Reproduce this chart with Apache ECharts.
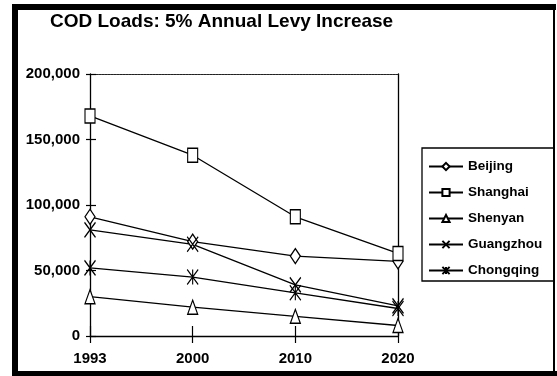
<!DOCTYPE html>
<html>
<head>
<meta charset="utf-8">
<script src="https://cdn.jsdelivr.net/npm/echarts@6/dist/echarts.min.js"></script>
<style>
  html, body { margin: 0; padding: 0; background: #fff; }
  #chart { width: 557px; height: 376px; }
</style>
</head>
<body>
<div id="chart"></div>
<script>
// COD loads by city under a 5% annual levy increase
const years = ['1993', '2000', '2010', '2020'];
const beijing   = [91000, 72000, 61000, 57000];
const shanghai  = [168000, 138000, 91000, 63000];
const shenyan   = [30000, 22000, 15000, 8000];
const guangzhou = [81000, 70000, 39000, 23000];
const chongqing = [52000, 45000, 33000, 21000];
const yTicks = { min: 0, max: 200000, interval: 50000 };

const FONT = '"Liberation Sans", Arial, sans-serif';
const crossPath = 'path://M0,0L10,14M10,0L0,14';
const starPath = 'path://M0,0L10,14M10,0L0,14M5,0L5,14';

function citySeries(name, data, symbol, size) {
  return {
    name: name,
    type: 'line',
    data: data,
    symbol: symbol,
    symbolSize: size,
    showAllSymbol: true,
    lineStyle: { color: '#000', width: 1.3 },
    itemStyle: { color: '#fff', borderColor: '#000', borderWidth: 1.3 },
    emphasis: { disabled: true },
    z: 3
  };
}

const chart = echarts.init(document.getElementById('chart'), null, { renderer: 'canvas' });
chart.setOption({
  animation: false,
  backgroundColor: '#fff',
  title: {
    text: 'COD Loads: 5% Annual Levy Increase',
    left: 50,
    top: 12,
    padding: 0,
    textStyle: { fontFamily: FONT, fontSize: 19, fontWeight: 'bold', color: '#000' }
  },
  grid: { left: 90, right: 159, top: 74, bottom: 40 },
  legend: {
    orient: 'vertical',
    left: 422,
    top: 148,
    padding: [11, 12, 3, 6],
    itemGap: 11,
    itemWidth: 34,
    itemHeight: 9,
    borderColor: '#000',
    borderWidth: 1.3,
    backgroundColor: '#fff',
    textStyle: { fontFamily: FONT, fontSize: 13.5, fontWeight: 'bold', color: '#000', lineHeight: 15 },
    data: ['Beijing', 'Shanghai', 'Shenyan', 'Guangzhou', 'Chongqing']
  },
  xAxis: [
    {
      type: 'category',
      data: years,
      boundaryGap: false,
      axisLine: { lineStyle: { color: '#000', width: 1.3 } },
      axisTick: { show: true, length: 7, lineStyle: { color: '#000', width: 1.2 } },
      axisLabel: { fontFamily: FONT, fontSize: 15, fontWeight: 'bold', color: '#000', margin: 15 },
      splitLine: { show: false }
    },
    {
      // ticks rising above the base line
      type: 'category',
      data: years,
      boundaryGap: false,
      position: 'bottom',
      axisLine: { show: false, onZero: false },
      axisTick: { show: true, inside: true, length: 10, lineStyle: { color: '#000', width: 1.2 } },
      axisLabel: { show: false },
      splitLine: { show: false }
    },
    {
      // dotted top edge of the plot
      type: 'category',
      data: years,
      boundaryGap: false,
      position: 'top',
      axisLine: { show: true, onZero: false, lineStyle: { color: '#222', width: 1.2, type: [2, 1] } },
      axisTick: { show: false },
      axisLabel: { show: false },
      splitLine: { show: false }
    }
  ],
  yAxis: [
    {
      type: 'value',
      min: yTicks.min,
      max: yTicks.max,
      interval: yTicks.interval,
      axisLine: { show: true, lineStyle: { color: '#000', width: 1.3 } },
      axisTick: { show: true, length: 4, lineStyle: { color: '#000', width: 1.2 } },
      axisLabel: {
        fontFamily: FONT, fontSize: 15, fontWeight: 'bold', color: '#000', margin: 10,
        formatter: v => v.toLocaleString('en-US')
      },
      splitLine: { show: false }
    },
    {
      // solid right edge of the plot
      type: 'value',
      min: yTicks.min,
      max: yTicks.max,
      interval: yTicks.interval,
      position: 'right',
      axisLine: { show: true, onZero: false, lineStyle: { color: '#000', width: 1.3 } },
      axisTick: { show: false },
      axisLabel: { show: false },
      splitLine: { show: false }
    },
    {
      // tick marks reaching into the plot
      type: 'value',
      min: yTicks.min,
      max: yTicks.max,
      interval: yTicks.interval,
      position: 'left',
      axisLine: { show: false, onZero: false },
      axisTick: { show: true, inside: true, length: 6, lineStyle: { color: '#000', width: 1.2 } },
      axisLabel: { show: false },
      splitLine: { show: false }
    }
  ],
  series: [
    citySeries('Beijing', beijing, 'diamond', [10, 15]),
    citySeries('Shanghai', shanghai, 'rect', [10, 14]),
    citySeries('Shenyan', shenyan, 'triangle', [10, 14]),
    citySeries('Guangzhou', guangzhou, crossPath, [11, 15]),
    citySeries('Chongqing', chongqing, starPath, [11, 15])
  ],
  graphic: [
    // heavy outer frame
    { type: 'rect', z: 100, shape: { x: 12, y: 4, width: 544, height: 6 }, style: { fill: '#000' }, silent: true },
    { type: 'rect', z: 100, shape: { x: 12, y: 4, width: 6, height: 372 }, style: { fill: '#000' }, silent: true },
    { type: 'rect', z: 100, shape: { x: 12, y: 371, width: 545, height: 5 }, style: { fill: '#000' }, silent: true },
    { type: 'rect', z: 100, shape: { x: 553, y: 4, width: 2, height: 372 }, style: { fill: '#000' }, silent: true }
  ]
});
</script>
</body>
</html>
